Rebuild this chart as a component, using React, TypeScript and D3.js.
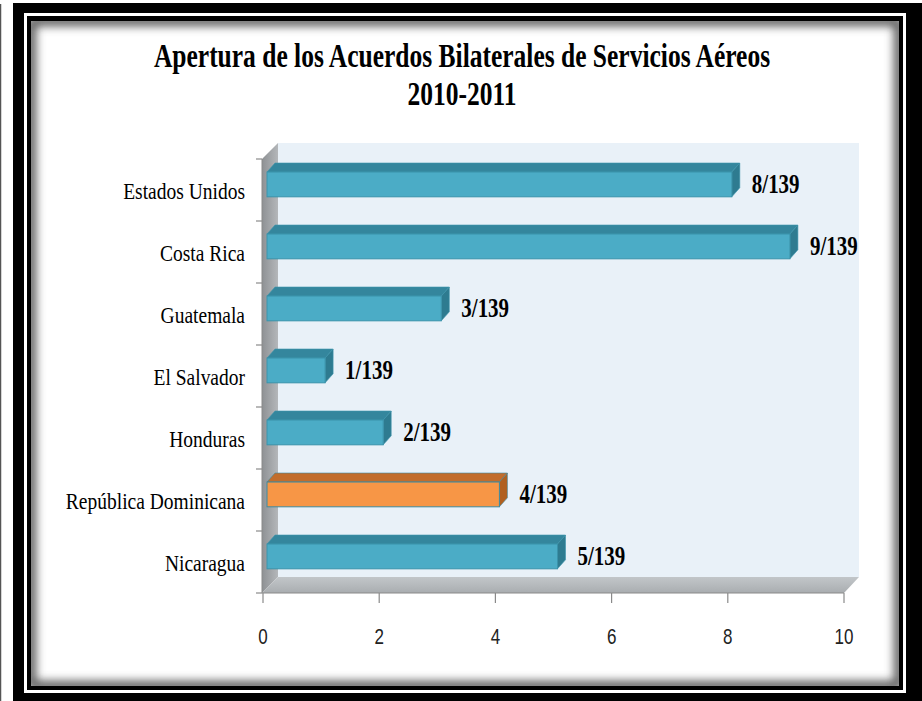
import { useEffect, useRef } from 'react';
import * as d3 from 'd3';

const categories = [
  'Estados Unidos',
  'Costa Rica',
  'Guatemala',
  'El Salvador',
  'Honduras',
  'República Dominicana',
  'Nicaragua',
];
const values = [8, 9, 3, 1, 2, 4, 5];
const valueLabels = ['8/139', '9/139', '3/139', '1/139', '2/139', '4/139', '5/139'];
const highlighted = ['República Dominicana'];
const xTicks = [0, 2, 4, 6, 8, 10];
const titleLines = ['Apertura de los Acuerdos Bilaterales de Servicios Aéreos', '2010-2011'];

const W = 922;
const H = 701;

export default function App() {
  const svgRef = useRef<SVGSVGElement>(null);

  useEffect(() => {
    if (!svgRef.current) return;
    const svg = d3.select(svgRef.current);
    svg.selectAll('*').remove();

    const defs = svg.append('defs');

    // inner shadow of the white panel
    const blur = defs.append('filter').attr('id', 'soft').attr('x', '-10%').attr('y', '-10%')
      .attr('width', '120%').attr('height', '120%');
    blur.append('feGaussianBlur').attr('stdDeviation', 5);
    defs.append('clipPath').attr('id', 'panel-clip')
      .append('rect').attr('x', 31).attr('y', 21).attr('width', 868).attr('height', 665);

    const wallGrad = defs.append('linearGradient').attr('id', 'wall').attr('x1', 0).attr('x2', 1).attr('y1', 0).attr('y2', 0);
    wallGrad.append('stop').attr('offset', '0%').attr('stop-color', '#8e9194');
    wallGrad.append('stop').attr('offset', '100%').attr('stop-color', '#b4b7ba');

    const floorGrad = defs.append('linearGradient').attr('id', 'floor').attr('x1', 0).attr('x2', 0).attr('y1', 0).attr('y2', 1);
    floorGrad.append('stop').attr('offset', '0%').attr('stop-color', '#c2c6c9');
    floorGrad.append('stop').attr('offset', '100%').attr('stop-color', '#a9adb0');

    // frame
    svg.append('rect').attr('width', W).attr('height', H).attr('fill', '#fff');
    svg.append('line').attr('x1', 0.5).attr('x2', 0.5).attr('y1', 4).attr('y2', H)
      .attr('stroke', '#555').attr('stroke-width', 1.5);
    svg.append('rect').attr('x', 13).attr('y', 3).attr('width', W - 13).attr('height', H - 3).attr('fill', '#000');
    svg.append('rect').attr('x', 24).attr('y', 13).attr('width', 882).attr('height', 680).attr('fill', '#fff');
    svg.append('rect').attr('x', 27).attr('y', 16).attr('width', 876).attr('height', 674).attr('fill', '#000');
    svg.append('rect').attr('x', 31).attr('y', 21).attr('width', 868).attr('height', 665).attr('fill', '#fff');
    svg.append('g').attr('clip-path', 'url(#panel-clip)')
      .append('rect').attr('x', 31).attr('y', 21).attr('width', 868).attr('height', 665)
      .attr('fill', 'none').attr('stroke', '#555').attr('stroke-width', 10)
      .attr('rx', 6).attr('filter', 'url(#soft)');

    // title
    titleLines.forEach((line, i) => {
      svg.append('text')
        .attr('transform', `translate(462, ${i === 0 ? 67 : 105}) scale(1, 1.3)`)
        .attr('text-anchor', 'middle')
        .attr('font-family', 'Liberation Serif, serif')
        .attr('font-weight', 'bold')
        .attr('font-size', 25.5)
        .attr('fill', '#000')
        .text(line);
    });

    // 3D geometry
    const depthX = 15;
    const depthY = 16;
    const x = d3.scaleLinear().domain([0, 10]).range([263, 844]);
    const y = d3.scaleBand<string>().domain(categories).range([159, 593]).padding(0);
    const bottom = 593;
    const top = 159;

    // back wall
    svg.append('rect')
      .attr('x', x(0) + depthX).attr('y', top - depthY)
      .attr('width', x(10) - x(0)).attr('height', bottom - top)
      .attr('fill', '#e9f1f8');

    // side wall
    svg.append('path')
      .attr('d', `M${x(0) - 1},${top} L${x(0) + depthX},${top - depthY} L${x(0) + depthX},${bottom - depthY} L${x(0) - 1},${bottom} Z`)
      .attr('fill', 'url(#wall)');

    // floor
    svg.append('path')
      .attr('d', `M${x(0) - 1},${bottom} L${x(0) + depthX},${bottom - depthY} L${x(10) + depthX},${bottom - depthY} L${x(10)},${bottom} Z`)
      .attr('fill', 'url(#floor)');

    // axes
    svg.append('line').attr('x1', x(0) - 1).attr('x2', x(10)).attr('y1', bottom).attr('y2', bottom)
      .attr('stroke', '#8a8a8a').attr('stroke-width', 1.2);
    svg.append('line').attr('x1', x(0) - 1).attr('x2', x(0) - 1).attr('y1', top).attr('y2', bottom)
      .attr('stroke', '#8a8a8a').attr('stroke-width', 1);

    xTicks.forEach((t) => {
      svg.append('line').attr('x1', x(t)).attr('x2', x(t)).attr('y1', bottom).attr('y2', bottom + 10)
        .attr('stroke', '#8a8a8a').attr('stroke-width', 1.2);
      svg.append('text')
        .attr('transform', `translate(${x(t)}, 644) scale(1, 1.25)`)
        .attr('text-anchor', 'middle')
        .attr('font-family', 'Liberation Sans, Arial, sans-serif')
        .attr('font-size', 17)
        .attr('fill', '#222')
        .text(t);
    });

    const bandEdges = [...categories.map((c) => y(c) as number), bottom];
    bandEdges.forEach((e) => {
      svg.append('line').attr('x1', x(0) - 7).attr('x2', x(0) - 1).attr('y1', e).attr('y2', e)
        .attr('stroke', '#8a8a8a').attr('stroke-width', 1.2);
    });

    // category labels
    categories.forEach((c) => {
      const cy = (y(c) as number) + y.bandwidth() / 2;
      svg.append('text')
        .attr('transform', `translate(245, ${cy + 9}) scale(1, 1.15)`)
        .attr('text-anchor', 'end')
        .attr('font-family', 'Liberation Serif, serif')
        .attr('font-size', 19.5)
        .attr('fill', '#000')
        .text(c);
    });

    // bars
    const bw = y.bandwidth();
    const barDx = 8;
    const barDy = 9;
    const shift = 4;
    categories.forEach((c, i) => {
      const isHi = highlighted.includes(c);
      const front = isHi ? '#f79646' : '#4bacc6';
      const topC = isHi ? '#c26d2c' : '#34869d';
      const sideC = isHi ? '#b1601f' : '#2e7b90';
      const edge = isHi ? '#3d8aa0' : '#3a93ab';
      const y0 = (y(c) as number) + bw * 0.21;
      const y1 = y0 + bw * 0.4;
      const x0 = x(0) + shift;
      const x1 = x(values[i]) + shift;
      const g = svg.append('g');
      g.append('path')
        .attr('d', `M${x0},${y0} L${x0 + barDx},${y0 - barDy} L${x1 + barDx},${y0 - barDy} L${x1},${y0} Z`)
        .attr('fill', topC).attr('stroke', edge).attr('stroke-width', 0.6);
      g.append('path')
        .attr('d', `M${x1},${y0} L${x1 + barDx},${y0 - barDy} L${x1 + barDx},${y1 - barDy} L${x1},${y1} Z`)
        .attr('fill', sideC).attr('stroke', edge).attr('stroke-width', 0.6);
      g.append('rect')
        .attr('x', x0).attr('y', y0).attr('width', x1 - x0).attr('height', y1 - y0)
        .attr('fill', front).attr('stroke', edge).attr('stroke-width', 1);

      svg.append('text')
        .attr('transform', `translate(${x1 + barDx + 12}, ${(y(c) as number) + bw / 2 + 3}) scale(1, 1.35)`)
        .attr('font-family', 'Liberation Serif, serif')
        .attr('font-weight', 'bold')
        .attr('font-size', 21)
        .attr('fill', '#000')
        .text(valueLabels[i]);
    });
  }, []);

  return (
    <svg
      ref={svgRef}
      width={W}
      height={H}
      viewBox={`0 0 ${W} ${H}`}
      style={{ position: 'absolute', left: 0, top: 0, display: 'block' }}
    />
  );
}
